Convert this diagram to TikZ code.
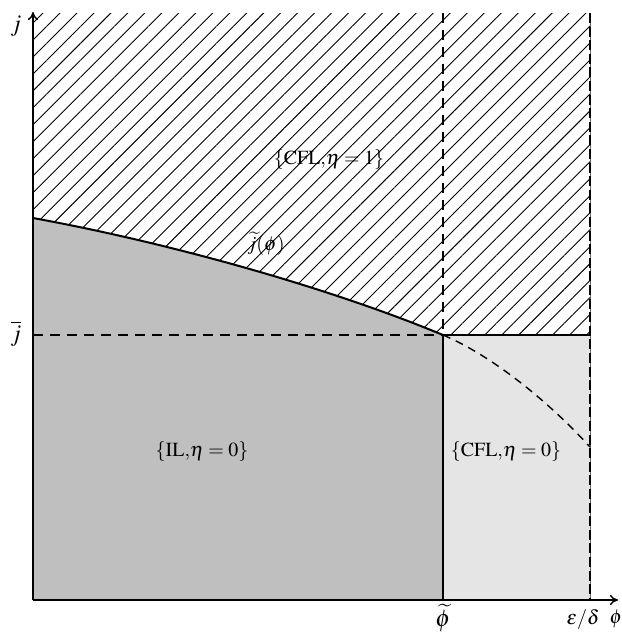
\documentclass[tikz,border=0pt]{standalone}
\usepackage{mathptmx}
\usetikzlibrary{patterns.meta,arrows.meta}
\begin{document}
\begin{tikzpicture}[x=0.5pt,y=-0.5pt,
  axis/.style={line width=0.75pt,-{To[length=4pt,width=5pt]}},
  bound/.style={line width=0.8pt},
  dsh/.style={line width=0.7pt,dash pattern=on 5pt off 3.5pt},
  curveln/.style={line width=1pt},
  lbl/.style={inner sep=0pt,font=\normalsize}]
\useasboundingbox (0,0) rectangle (622,633);
% coordinates
\coordinate (O) at (33,600);
\coordinate (Yt) at (33,12);
\coordinate (Xt) at (618,600);
\coordinate (A) at (33,218);
\coordinate (P) at (443,335);
\coordinate (Pb) at (443,600);
\coordinate (R) at (590,335);
\coordinate (Rb) at (590,600);
\coordinate (Rt) at (590,13);
\coordinate (Pt) at (443,13);
\coordinate (At) at (33,13);
\coordinate (E) at (590,447);
\coordinate (J) at (33,335);
% fills
\fill[black!25] (A) .. controls (170,243) and (330,288) .. (P) -- (Pb) -- (O) -- cycle;
\fill[black!10] (P) -- (R) -- (Rb) -- (Pb) -- cycle;
\fill[pattern={Lines[angle=45,distance=6pt,line width=0.45pt]}]
  (A) .. controls (170,243) and (330,288) .. (P) -- (R) -- (Rt) -- (At) -- cycle;
% lines
\draw[dsh] (J) -- (P);
\draw[dsh] (Pt) -- (P);
\draw[line width=0.3pt,black!60] (Rt) -- (Rb);
\draw[line width=0.8pt,dash pattern=on 5pt off 1.8pt] (Rt) -- (Rb);
\draw[bound] (P) -- (R);
\draw[bound] (P) -- (Pb);
\draw[curveln] (A) .. controls (170,243) and (330,288) .. (P);
\draw[line width=0.7pt,dash pattern=on 4pt off 3pt] (P) .. controls (493,356) and (550,403) .. (E);
\draw[axis] (O) -- (Yt);
\draw[axis] (O) -- (Xt);
% labels
\node[lbl] (lj) at (16,26) {\large$j$};
\node[lbl] (ljbar) at (16,334) {\large$\overline{j}$};
\node[lbl] (lphit) at (443,618) {\large$\widetilde{\phi}$};
\node[lbl] (led) at (583,620) {$\varepsilon/\delta$};
\node[lbl] (lphi) at (616,619) {$\phi$};
\node[lbl] (ljt) at (266,244) {$\widetilde{j}(\phi)$};
\node[lbl] (lc1) at (329,160) {$\{\mathrm{CFL}{,}\eta=1\}$};
\node[lbl] (lil) at (202,452) {$\{\mathrm{IL}{,}\eta=0\}$};
\node[lbl] (lc0) at (506,452) {$\{\mathrm{CFL}{,}\eta=0\}$};
\end{tikzpicture}
\end{document}
